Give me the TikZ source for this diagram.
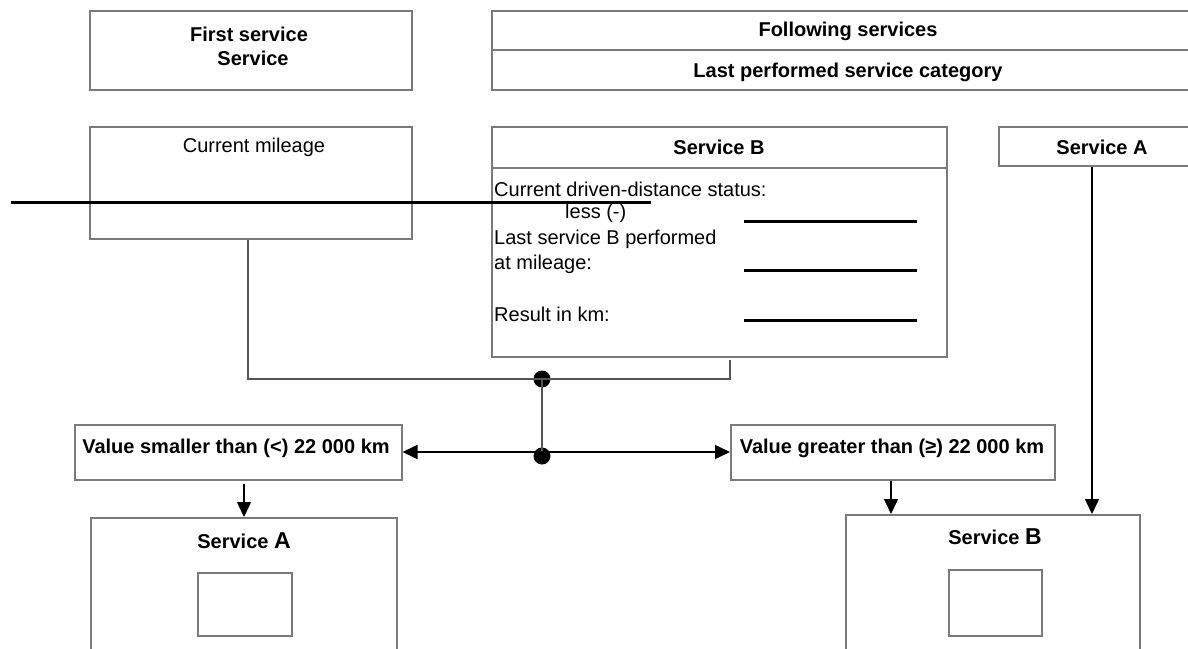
\documentclass[tikz,border=0pt]{standalone}
\usepackage{fontspec}
\setmainfont{Liberation Sans}
\usetikzlibrary{arrows.meta,calc}
\definecolor{boxgray}{HTML}{7A7A7A}
\definecolor{conngray}{HTML}{555555}
\begin{document}
\begin{tikzpicture}[x=1pt,y=-1pt,
  box/.style={draw=boxgray,line width=1.5pt,fill=none,inner sep=0pt,anchor=north west},
  txt/.style={inner sep=0pt,font=\fontsize{20}{23}\selectfont},
  btxt/.style={inner sep=0pt,font=\fontsize{20}{23}\selectfont\bfseries},
  ltxt/.style={inner sep=0pt,anchor=west,font=\fontsize{20}{23}\selectfont},
  conn/.style={draw=conngray,line width=1.9pt},
  arr/.style={draw=black,line width=1.5pt,-{Triangle[length=15pt,width=14pt]}},
  thick line/.style={draw=black,line width=3pt},
  dot/.style={circle,fill=black,inner sep=0pt,minimum size=17pt}]
\useasboundingbox (0,0) rectangle (1188,648);
\clip (0,0) rectangle (1188,648);
\fill[white] (0,0) rectangle (1188,648);

% top row
\node[box,minimum width=322pt,minimum height=79pt] (first) at (89,10) {};
\node[btxt] (firstT1) at (249,34) {First service};
\node[btxt] (firstT2) at (253,58) {Service};

\node[box,minimum width=714pt,minimum height=79pt] (follow) at (491,10) {};
\draw[draw=boxgray,line width=1.5pt] (follow.west |- 0,50) -- (follow.east |- 0,50);
\node[btxt] (followT1) at (848,31) {Following services};
\node[btxt] (followT2) at (848,72) {Last performed service category};

% second row
\node[box,minimum width=322pt,minimum height=112pt] (mileage) at (89,126) {};
\node[txt] (mileageT) at (254,147) {Current mileage};

\node[box,minimum width=455pt,minimum height=230pt] (svcB) at (491,126) {};
\draw[draw=boxgray,line width=1.5pt] (svcB.west |- 0,168) -- (svcB.east |- 0,168);
\node[btxt] (svcBT) at (719,147) {Service B};
\node[ltxt] (l1) at (494,189) {Current driven-distance status:};
\node[ltxt] (l2) at (565,213) {less (-)};
\node[ltxt] (l3) at (494,239) {Last service B performed};
\node[ltxt] (l4) at (494,264) {at mileage:};
\node[ltxt] (l5) at (494,314) {Result in km:};
\coordinate (u1a) at (744,221); \coordinate (u1b) at (917,221);
\coordinate (u2a) at (744,270); \coordinate (u2b) at (917,270);
\coordinate (u3a) at (744,320); \coordinate (u3b) at (917,320);
\draw[thick line] (u1a) -- (u1b);
\draw[thick line] (u2a) -- (u2b);
\draw[thick line] (u3a) -- (u3b);

\node[box,minimum width=207pt,minimum height=39pt] (svcAtop) at (998,126) {};
\node[btxt] (svcAtopT) at (1102,147) {Service A};

% long line
\coordinate (ll1) at (11,202);
\coordinate (ll2) at (651,202);
\draw[thick line] (ll1) -- (ll2);

% junctions
\coordinate (mx) at (248,0);
\coordinate (rx) at (730,0);
\node[dot] (j1) at (542,379) {};
\coordinate (j2) at (542,452);
\node[dot] (j2dot) at (542,456) {};

% value boxes
\node[box,minimum width=327pt,minimum height=55pt] (small) at (74,424) {};
\node[btxt] (smallT) at (236,448) {Value smaller than (<) 22 000 km};
\node[box,minimum width=324pt,minimum height=55pt] (great) at (730,424) {};
\node[btxt] (greatT) at (892,448) {Value greater than (≥) 22 000 km};

% bottom boxes
\node[box,minimum width=306pt,minimum height=150pt] (resA) at (90,517) {};
\node[btxt] (resAT) at (244,541) {Service {\fontsize{23}{25}\selectfont A}};
\node[box,minimum width=94pt,minimum height=63pt] (resAsq) at (197,572) {};
\node[box,minimum width=294pt,minimum height=150pt] (resB) at (845,514) {};
\node[btxt] (resBT) at (995,537) {Service {\fontsize{23}{25}\selectfont B}};
\node[box,minimum width=93pt,minimum height=66pt] (resBsq) at (948,569) {};

% connectors
\draw[conn] (mileage.south -| mx) |- (j1.center) -| ([yshift=-2pt]svcB.south -| rx);
\draw[conn] (j1.center) -- (j2);
\draw[arr] (j2) -- (small.east |- j2);
\draw[arr] (j2) -- (great.west |- j2);
\draw[arr] ([yshift=-3pt]small.south -| resAT) -- (resA.north -| resAT);
\coordinate (gx) at (891,0);
\coordinate (ax) at (1092,0);
\draw[arr] (great.south -| gx) -- (resB.north -| gx);
\draw[arr] (svcAtop.south -| ax) -- (resB.north -| ax);
\end{tikzpicture}
\end{document}
